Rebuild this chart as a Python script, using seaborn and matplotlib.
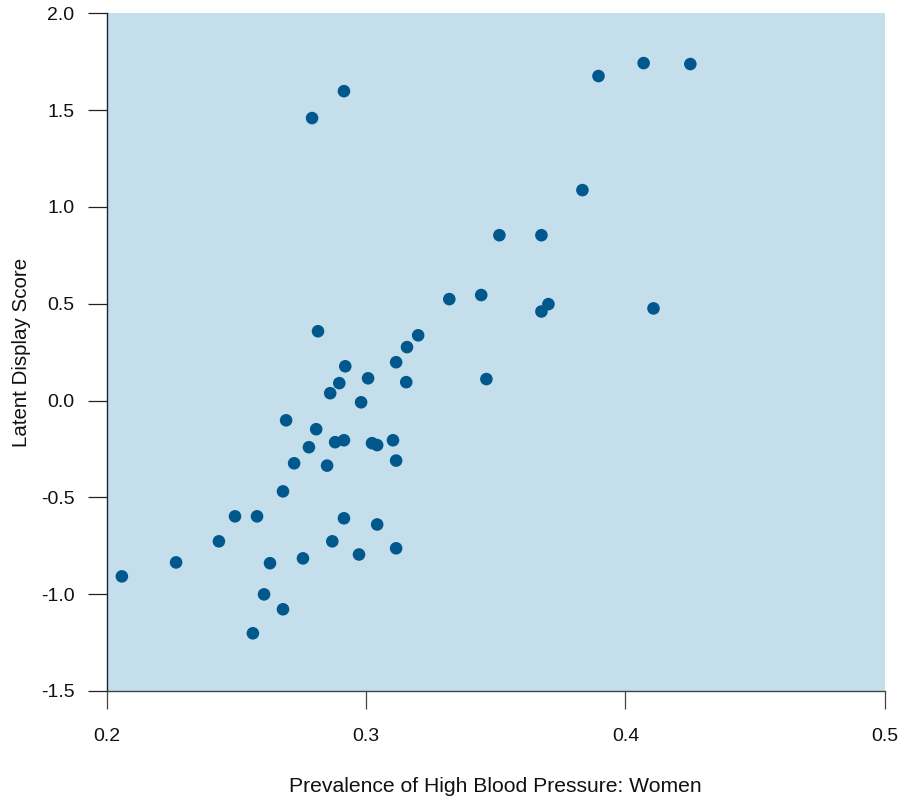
import matplotlib
matplotlib.use("Agg")
import matplotlib.pyplot as plt
import seaborn as sns
import pandas as pd

prevalence_women = [
    0.2059, 0.2268, 0.2433, 0.2495, 0.2580, 0.2564, 0.2607, 0.2630, 0.2680, 0.2680,
    0.2692, 0.2723, 0.2757, 0.2780, 0.2792, 0.2808, 0.2815, 0.2850, 0.2862, 0.2870,
    0.2881, 0.2897, 0.2915, 0.2915, 0.2920, 0.2915, 0.2973, 0.2981, 0.3008, 0.3023,
    0.3043, 0.3043, 0.3104, 0.3116, 0.3116, 0.3116, 0.3155, 0.3158, 0.3201, 0.3321,
    0.3444, 0.3464, 0.3514, 0.3676, 0.3676, 0.3703, 0.3834, 0.3896, 0.4070, 0.4108,
    0.4250,
]
latent_score = [
    -0.908, -0.836, -0.727, -0.598, -0.598, -1.202, -1.001, -0.840, -1.078, -0.469,
    -0.102, -0.324, -0.815, -0.241, 1.459, -0.148, 0.358, -0.336, 0.038, -0.727,
    -0.215, 0.090, 1.598, -0.205, 0.177, -0.608, -0.795, -0.009, 0.115, -0.220,
    -0.230, -0.640, -0.205, 0.198, -0.310, -0.763, 0.095, 0.276, 0.337, 0.524,
    0.545, 0.111, 0.854, 0.854, 0.460, 0.498, 1.087, 1.676, 1.743, 0.476,
    1.738,
]
x_ticks = [0.2, 0.3, 0.4, 0.5]
y_ticks = [2.0, 1.5, 1.0, 0.5, 0.0, -0.5, -1.0, -1.5]

df = pd.DataFrame({"x": prevalence_women, "y": latent_score})

sns.set_style("white")
plt.rcParams["font.family"] = ["Liberation Sans", "DejaVu Sans"]

fig = plt.figure(figsize=(9.03, 7.98), dpi=100)
ax = fig.add_axes([0.118, 0.1341, 0.862, 0.8492])
ax.set_facecolor("#C5DEEC")

sns.scatterplot(data=df, x="x", y="y", ax=ax, color="#00588C", s=82,
                edgecolor="none", linewidth=0, zorder=3)

ax.set_xlim(0.2, 0.5)
ax.set_ylim(-1.5, 2.0)
ax.set_xticks(x_ticks)
ax.set_xticklabels([f"{t:.1f}" for t in x_ticks])
ax.set_yticks(y_ticks)
ax.set_yticklabels([f"{t:.1f}" for t in y_ticks])

for side in ["top", "right"]:
    ax.spines[side].set_visible(False)
ax.spines["left"].set_color("#1A2533")
ax.spines["left"].set_linewidth(1.0)
ax.spines["bottom"].set_color("#444444")
ax.spines["bottom"].set_linewidth(1.0)

ax.tick_params(axis="x", direction="out", length=13, width=0.9, color="#444444",
               pad=14, labelsize=14, labelcolor="#111111", bottom=True)
ax.tick_params(axis="y", direction="out", length=14, width=0.9, color="#222222",
               pad=9, labelsize=14, labelcolor="#111111", left=True)

ax.set_xlabel("Prevalence of High Blood Pressure: Women", fontsize=15.2,
              color="#111111", labelpad=23)
ax.set_ylabel("Latent Display Score", fontsize=14.8, color="#111111", labelpad=7)

fig.savefig("out.png", dpi=100)
